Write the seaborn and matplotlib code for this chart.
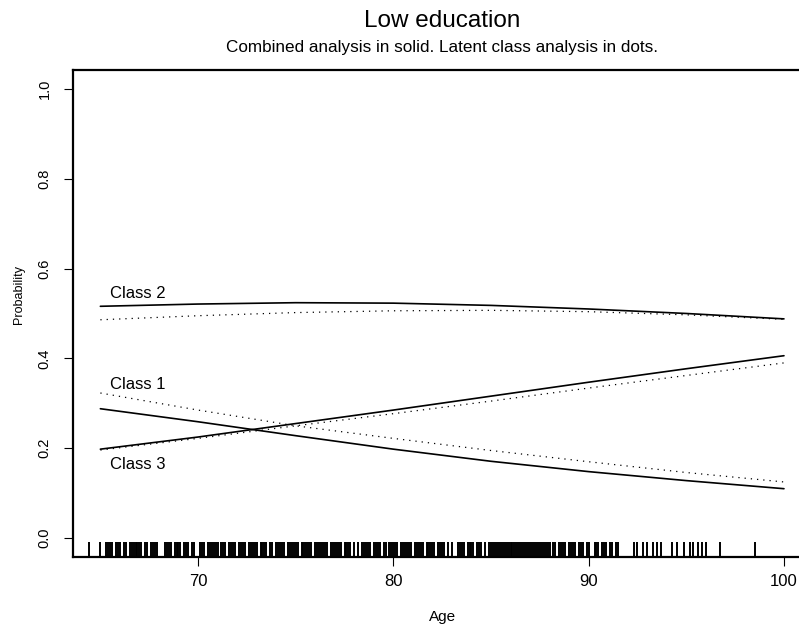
import matplotlib
matplotlib.use("Agg")
import matplotlib.pyplot as plt
import pandas as pd
import seaborn as sns

# Fitted probabilities
ages = [65, 70, 75, 80, 85, 90, 95, 100]
class1_combined = [0.288, 0.259, 0.228, 0.198, 0.171, 0.148, 0.128, 0.110]
class1_lca = [0.323, 0.285, 0.250, 0.222, 0.195, 0.170, 0.146, 0.125]
class2_combined = [0.516, 0.521, 0.524, 0.523, 0.518, 0.510, 0.500, 0.488]
class2_lca = [0.486, 0.495, 0.502, 0.506, 0.507, 0.504, 0.497, 0.487]
class3_combined = [0.198, 0.225, 0.255, 0.285, 0.316, 0.347, 0.377, 0.406]
class3_lca = [0.196, 0.222, 0.250, 0.277, 0.305, 0.334, 0.362, 0.390]

class_labels = ["Class 1", "Class 2", "Class 3"]
label_y = [0.342, 0.544, 0.163]

x_ticks = [70, 80, 90, 100]
y_ticks = [0.0, 0.2, 0.4, 0.6, 0.8, 1.0]

# observed ages (rug)
rug_ages = [
    64.4, 65.0, 65.3, 65.4, 65.5, 65.6, 65.8, 65.9, 66.0, 66.2, 66.3,
    66.5, 66.6, 66.7, 66.8, 66.9, 67.0, 67.1, 67.3, 67.4,
    67.6, 67.7, 67.8, 67.9,
    68.3, 68.4, 68.5, 68.6, 68.8, 68.9, 69.0, 69.1, 69.3, 69.4, 69.5, 69.7, 69.8,
    70.1, 70.2, 70.3, 70.5, 70.6, 70.7, 70.8, 70.9, 71.0, 71.2, 71.3, 71.4,
    71.6, 71.7, 71.8, 71.9, 72.1, 72.2, 72.3, 72.4, 72.6, 72.7, 72.8, 72.9,
    73.0, 73.2, 73.3, 73.4, 73.5, 73.7, 73.8,
    74.0, 74.1, 74.2, 74.3, 74.4, 74.6, 74.7, 74.8, 74.9, 75.0, 75.1, 75.3,
    75.4, 75.5, 75.6, 75.7, 75.8, 76.0, 76.1, 76.2, 76.3, 76.4, 76.5, 76.6,
    76.8, 76.9, 77.0, 77.1, 77.2, 77.3, 77.5, 77.6, 77.7, 77.8,
    78.0, 78.2,
    78.4, 78.5, 78.6, 78.7, 78.8, 79.0, 79.1, 79.2, 79.3, 79.5, 79.6,
    79.8, 79.9, 80.0, 80.1, 80.2, 80.4, 80.5, 80.6, 80.7, 80.8, 80.9,
    81.1, 81.2, 81.3, 81.4, 81.5, 81.7, 81.8, 81.9, 82.0, 82.1, 82.3, 82.4,
    82.5, 82.6, 82.8, 83.0,
    83.3, 83.4, 83.5, 83.6, 83.8, 83.9, 84.0, 84.1, 84.3, 84.4, 84.5, 84.7,
    84.9, 85.0, 85.1, 85.2, 85.3, 85.4, 85.5, 85.6, 85.7, 85.8, 85.9, 86.0,
    86.1, 86.2, 86.3, 86.4, 86.5, 86.6, 86.7, 86.8, 86.9, 87.0, 87.1, 87.2,
    87.3, 87.4, 87.5, 87.6, 87.7, 87.8, 87.9, 88.0,
    88.2, 88.3, 88.5, 88.6, 88.7, 88.8, 89.0, 89.1, 89.2, 89.3, 89.5, 89.6,
    89.7, 89.9, 90.0,
    90.3, 90.4, 90.5, 90.7, 90.8, 90.9, 91.1, 91.2, 91.4, 91.5,
    92.3, 92.5, 92.8, 93.0, 93.3, 93.5, 93.7,
    94.25, 94.5, 94.9, 95.2, 95.35, 95.6, 95.8, 96.0, 96.7, 98.5,
]


def plot_low_education():
    sns.set_style("ticks")
    plt.rcParams["font.family"] = ["Liberation Sans", "DejaVu Sans"]
    plt.rcParams["text.color"] = "black"
    plt.rcParams["axes.labelcolor"] = "black"
    plt.rcParams["xtick.color"] = "black"
    plt.rcParams["ytick.color"] = "black"

    fig = plt.figure(figsize=(7.99, 6.31), dpi=100)
    # right edge of the box falls outside the image, as in the original
    ax = fig.add_axes([0.0914, 0.1173, 0.924, 0.7718])

    series = [
        (class1_combined, "-"), (class1_lca, ":"),
        (class2_combined, "-"), (class2_lca, ":"),
        (class3_combined, "-"), (class3_lca, ":"),
    ]
    for values, style in series:
        df = pd.DataFrame({"age": ages, "prob": values})
        if style == "-":
            sns.lineplot(data=df, x="age", y="prob", ax=ax, color="black",
                         linewidth=1.2)
        else:
            sns.lineplot(data=df, x="age", y="prob", ax=ax, color="black",
                         linewidth=0.9, dashes=False,
                         linestyle=(0, (1, 4)))

    sns.rugplot(x=rug_ages, ax=ax, height=0.03, color="black",
                linewidth=1.4, alpha=1, expand_margins=False)

    for name, y in zip(class_labels, label_y):
        ax.text(65.5, y, name, fontsize=12, ha="left", va="center")

    ax.set_xlim(63.6, 101.4)
    ax.set_ylim(-0.042, 1.042)
    ax.set_xticks(x_ticks)
    ax.set_xticklabels([str(t) for t in x_ticks], fontsize=12)
    ax.set_yticks(y_ticks)
    ax.set_yticklabels([f"{t:.1f}" for t in y_ticks], fontsize=10.5,
                       rotation=90, va="center")
    ax.tick_params(axis="x", length=6.5, width=0.8, pad=6)
    ax.tick_params(axis="y", length=6.5, width=0.8, pad=9)

    for side in ["left", "bottom", "top", "right"]:
        ax.spines[side].set_linewidth(1.6)
        ax.spines[side].set_color("black")

    ax.set_xlabel("Age", fontsize=11)
    ax.xaxis.set_label_coords(0.5, -0.123)
    ax.xaxis.label.set_va("center")
    ax.set_ylabel("Probability", fontsize=9)
    ax.yaxis.set_label_coords(-0.073, 0.54)
    ax.yaxis.label.set_va("center")
    ax.grid(False)

    fig.text(0.553, 0.966, "Low education", fontsize=17.5,
             ha="center", va="center")
    fig.text(0.553, 0.924,
             "Combined analysis in solid. Latent class analysis in dots.",
             fontsize=12.3, ha="center", va="center")

    fig.savefig("out.png", dpi=100)


if __name__ == "__main__":
    plot_low_education()
